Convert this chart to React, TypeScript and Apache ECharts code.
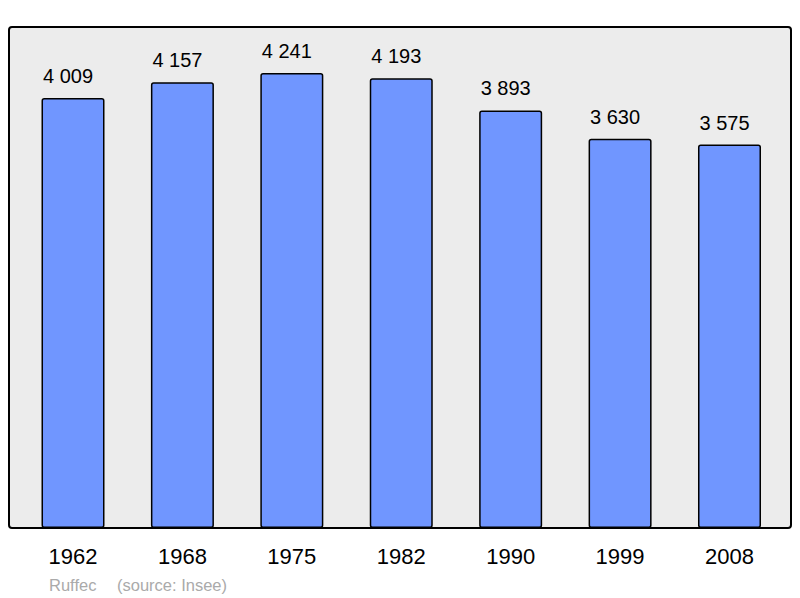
import React, { useEffect, useRef } from "react";
import * as echarts from "echarts";

const years = ["1962", "1968", "1975", "1982", "1990", "1999", "2008"];
const population = [4009, 4157, 4241, 4193, 3893, 3630, 3575];
const townName = "Ruffec";
const sourceText = "(source: Insee)";

const fmt = (v: number) => {
  const s = String(v);
  return s.length > 3 ? s.slice(0, s.length - 3) + " " + s.slice(-3) : s;
};

export default function App() {
  const ref = useRef<HTMLDivElement>(null);
  useEffect(() => {
    if (!ref.current) return;
    const chart = echarts.init(ref.current, null, { renderer: "svg" });
    chart.setOption({
      animation: false,
      backgroundColor: "#ffffff",
      textStyle: { fontFamily: "Liberation Sans, Arial, sans-serif" },
      grid: { left: 18.3, right: 15.8, top: 27, bottom: 70 },
      xAxis: {
        type: "category",
        data: years,
        axisLine: { show: false },
        axisTick: { show: false },
        axisLabel: {
          color: "#000",
          fontSize: 22,
          margin: 28.5,
          verticalAlign: "middle",
          fontFamily: "Liberation Sans, Arial, sans-serif",
        },
      },
      yAxis: {
        type: "value",
        min: 0,
        max: 4671,
        show: false,
        splitLine: { show: false },
      },
      graphic: [
        {
          type: "rect",
          z: -10,
          silent: true,
          shape: { x: 9, y: 27, width: 782, height: 501, r: 3 },
          style: { fill: "#ececec", stroke: "#000", lineWidth: 2 },
        },
        {
          type: "text",
          x: 49,
          y: 585,
          style: {
            text: townName,
            fill: "#aaaaaa",
            fontSize: 16.5,
            fontFamily: "Liberation Sans, Arial, sans-serif",
            verticalAlign: "middle",
          },
        },
        {
          type: "text",
          x: 117,
          y: 585,
          style: {
            text: sourceText,
            fill: "#aaaaaa",
            fontSize: 16.5,
            fontFamily: "Liberation Sans, Arial, sans-serif",
            verticalAlign: "middle",
          },
        },
      ],
      series: [
        {
          type: "bar",
          data: population,
          barWidth: 63,
          itemStyle: {
            color: "#7096ff",
            borderColor: "#000",
            borderWidth: 1.5,
            borderRadius: 2,
          },
          label: {
            show: true,
            position: "top",
            distance: 12,
            offset: [-5, 0],
            color: "#000",
            fontSize: 20,
            fontFamily: "Liberation Sans, Arial, sans-serif",
            formatter: (p: any) => fmt(p.value),
          },
        },
      ],
    });
    return () => chart.dispose();
  }, []);
  return (
    <div
      ref={ref}
      style={{ position: "fixed", left: 0, top: 0, width: 800, height: 598 }}
    />
  );
}
